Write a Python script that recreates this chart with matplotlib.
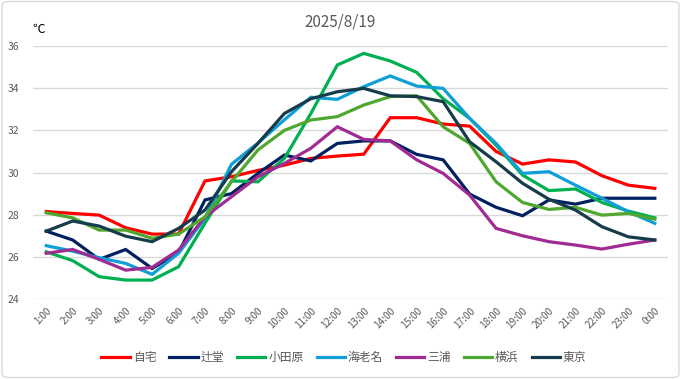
import matplotlib
matplotlib.use("Agg")
import matplotlib.pyplot as plt
from matplotlib.patches import FancyBboxPatch

plt.rcParams['font.family'] = ['Noto Sans CJK JP', 'DejaVu Sans']

hours = ["1:00", "2:00", "3:00", "4:00", "5:00", "6:00", "7:00", "8:00", "9:00", "10:00",
         "11:00", "12:00", "13:00", "14:00", "15:00", "16:00", "17:00", "18:00", "19:00",
         "20:00", "21:00", "22:00", "23:00", "0:00"]

jitaku = [28.15, 28.06, 27.98, 27.38, 27.08, 27.08, 29.6, 29.8, 30.1, 30.35, 30.67, 30.78,
          30.87, 32.6, 32.6, 32.3, 32.2, 31.0, 30.4, 30.6, 30.5, 29.85, 29.4, 29.25]
tsujido = [27.22, 26.8, 25.88, 26.35, 25.45, 26.2, 28.7, 29.0, 29.96, 30.83, 30.55, 31.38,
           31.5, 31.5, 30.86, 30.6, 28.98, 28.35, 27.95, 28.7, 28.5, 28.78, 28.78, 28.78]
odawara = [26.24, 25.82, 25.06, 24.9, 24.9, 25.53, 27.6, 29.6, 29.56, 30.67, 32.8, 35.1,
           35.65, 35.29, 34.75, 33.5, 32.57, 31.3, 29.88, 29.14, 29.22, 28.58, 28.17, 27.85]
ebina = [26.53, 26.27, 25.96, 25.69, 25.17, 26.17, 27.83, 30.39, 31.4, 32.5, 33.57, 33.47,
         34.07, 34.58, 34.1, 33.99, 32.57, 31.38, 29.96, 30.04, 29.4, 28.78, 28.14, 27.59]
miura = [26.17, 26.35, 25.88, 25.37, 25.5, 26.32, 27.9, 28.85, 29.8, 30.43, 31.15, 32.17,
         31.57, 31.5, 30.6, 29.96, 28.93, 27.35, 27.0, 26.72, 26.56, 26.37, 26.6, 26.8]
yokohama = [28.09, 27.85, 27.27, 27.27, 26.88, 27.08, 27.9, 29.56, 31.07, 32.0, 32.49, 32.65,
            33.2, 33.6, 33.64, 32.17, 31.38, 29.56, 28.58, 28.25, 28.35, 27.98, 28.06, 27.79]
tokyo = [27.22, 27.7, 27.46, 26.98, 26.72, 27.35, 28.22, 30.04, 31.38, 32.8, 33.5, 33.83,
         33.99, 33.64, 33.6, 33.36, 31.46, 30.51, 29.49, 28.73, 28.22, 27.43, 26.95, 26.8]

names = ["自宅", "辻堂", "小田原", "海老名", "三浦", "横浜", "東京"]
series = [jitaku, tsujido, odawara, ebina, miura, yokohama, tokyo]
colors = ["#FF0000", "#002060", "#00B050", "#0F9ED5", "#A02B93", "#4EA72E", "#163C4C"]
yticks = [24, 26, 28, 30, 32, 34, 36]

fig = plt.figure(figsize=(6.81, 3.79), dpi=100)
fig.patch.set_facecolor("white")
border = FancyBboxPatch((0.003, 0.004), 0.994, 0.992, boxstyle="round,pad=0,rounding_size=0.01",
                        transform=fig.transFigure, fill=False, edgecolor="#D9D9D9", linewidth=1.0)
fig.patches.append(border)

ax = fig.add_axes([0.0485, 0.211, 0.9325, 0.6676])
x = list(range(len(hours)))
for name, vals, c in zip(names, series, colors):
    ax.plot(x, vals, color=c, linewidth=2.3, label=name, solid_joinstyle="miter")

ax.set_xlim(-0.5, len(hours) - 0.5)
ax.set_ylim(24, 36)
ax.set_yticks(yticks)
ax.set_yticklabels([str(v) for v in yticks], fontsize=7.5, color="#595959")
ax.set_xticks(x)
ax.set_xticklabels(hours, rotation=45, fontsize=7.2, color="#595959", ha="right",
                   rotation_mode="anchor")
ax.tick_params(axis="both", length=0, pad=5)
ax.tick_params(axis="y", pad=10)
ax.grid(axis="y", color="#D9D9D9", linewidth=1.0)
ax.set_axisbelow(True)
for s in ax.spines.values():
    s.set_visible(False)

fig.text(0.5, 0.942, "2025/8/19", ha="center", va="center", fontsize=11, color="#595959")
fig.text(0.047, 0.922, "℃", ha="left", va="center", fontsize=9, color="black")

leg = fig.legend(loc="center", bbox_to_anchor=(0.505, 0.056), ncol=7, frameon=False,
                 fontsize=8.5, handlelength=2.4, columnspacing=1.1, handletextpad=0.25)
for t in leg.get_texts():
    t.set_color("#595959")

fig.savefig("out.png", dpi=100)
